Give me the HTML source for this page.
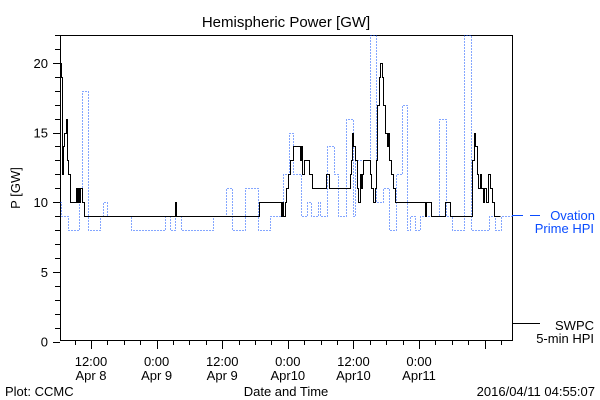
<!DOCTYPE html>
<html><head><meta charset="utf-8"><style>
html,body{margin:0;padding:0;background:#fff;width:600px;height:400px;overflow:hidden}
svg text{font-family:"Liberation Sans",sans-serif}
</style></head><body>
<svg id="chart" width="600" height="400" viewBox="0 0 600 400" xmlns="http://www.w3.org/2000/svg">
<rect x="0" y="0" width="600" height="400" fill="#fff"/>
<text x="286" y="27" font-size="15" text-anchor="middle">Hemispheric Power [GW]</text>
<rect x="60.5" y="35.5" width="452" height="305" fill="none" stroke="#000" stroke-width="1"/>
<g id="yaxis"></g>
<g id="xaxis"></g>
<text transform="translate(20,188) rotate(-90)" font-size="13" text-anchor="middle">P [GW]</text>
<text x="286" y="396" font-size="13" text-anchor="middle">Date and Time</text>
<text x="5" y="396" font-size="13">Plot: CCMC</text>
<text x="595" y="396" font-size="13" text-anchor="end">2016/04/11 04:55:07</text>
<g id="series"></g>
<line x1="512" y1="215.5" x2="523" y2="215.5" stroke="#0a4cff" stroke-width="1"/>
<line x1="530" y1="215.5" x2="540" y2="215.5" stroke="#0a4cff" stroke-width="1"/>
<text x="595" y="220" font-size="13" fill="#0a4cff" text-anchor="end">Ovation</text>
<text x="594" y="233" font-size="13" fill="#0a4cff" text-anchor="end">Prime HPI</text>
<line x1="513" y1="323.5" x2="540" y2="323.5" stroke="#000" stroke-width="1"/>
<text x="594" y="330" font-size="13" text-anchor="end">SWPC</text>
<text x="594" y="343" font-size="13" text-anchor="end">5-min HPI</text>
</svg>
<script>
// Hours since 2016-04-08 00:00
const swpcTimes=[6.3,6.5,6.7,6.9,7.0,7.4,7.6,7.8,8.1,9.2,9.4,9.6,9.8,10.0,10.3,10.7,27.3,27.5,42.7,46.7,46.9,47.1,47.5,47.7,48.0,48.4,48.9,50.2,50.4,50.6,50.9,51.6,51.8,52.4,55.0,55.5,59.4,59.5,59.7,59.9,60.3,60.6,60.8,61.2,61.3,61.5,61.7,63.0,63.3,63.5,63.9,64.1,64.3,64.4,64.6,64.8,65.2,65.4,65.7,66.1,66.3,66.5,66.8,67.2,67.6,67.9,69.1,73.1,73.3,74.2,76.8,77.7,81.7,82.1,82.2,82.6,82.8,83.2,83.3,83.7,83.9,84.2,84.6,85.0,85.3,85.7,86.8];
const swpcValues=[20,19,12,14,15,16,13,12,10,11,10,11,10,11,10,9,10,9,10,9,10,9,10,11,12,13,14,13,14,12,13,13,12,11,12,11,12,13,15,14,13,11,10,12,11,12,13,12,11,10,11,13,15,17,19,20,19,17,15,14,15,13,12,11,10,10,10,9,10,9,10,9,13,15,14,12,11,12,11,10,11,10,12,11,10,9,9];
const ovTimes=[6.3,6.5,7.8,9.8,10.3,11.4,13.6,14.2,14.9,19.3,25.5,26.4,27.3,28.4,34.3,36.7,37.8,40.2,42.5,44.7,47.1,48.2,48.9,50.4,51.5,52.2,53.5,53.9,55.2,56.5,57.2,58.6,59.9,60.3,63.0,64.1,65.4,66.5,67.8,68.9,69.8,70.3,71.2,72.2,75.6,76.9,78.0,80.2,81.5,84.8,85.9,87.0,89.0];
const ovValues=[10,9,8,11,18,8,9,10,9,8,9,8,9,8,9,11,8,11,8,9,12,15,12,9,10,9,10,9,14,12,9,16,9,13,22,10,11,8,12,17,8,9,8,9,16,9,8,22,8,9,8,9,9];
const yTicks=[0,5,10,15,20];
const xTickHours=[12,24,36,48,60,72];
const xTickLabels=["12:00","0:00","12:00","0:00","12:00","0:00"];
const xTickDates=["Apr 8","Apr 9","Apr 9","Apr10","Apr10","Apr11"];

const X0=60,X1=512,Y0=341.5,Y1=35,H0=6.33,H1=89.0,VMAX=22;
const xs=h=>X0+(h-H0)*(X1-X0)/(H1-H0);
const ys=v=>Y0-v*(Y0-Y1)/VMAX;
const NS="http://www.w3.org/2000/svg";
function mk(tag,attrs,parent){const e=document.createElementNS(NS,tag);for(const k in attrs)e.setAttribute(k,attrs[k]);parent.appendChild(e);return e;}

const ya=document.getElementById('yaxis');
for(let v=0;v<=VMAX;v++){
  const y=Math.round(ys(v))+0.5;
  const major=v%5===0;
  const t=mk('line',{x1:major?53:55,y1:y,x2:60,y2:y,stroke:'#000'},ya);
  
  
}
yTicks.forEach(v=>{
  const t=mk('text',{x:48,y:ys(v)+5,'font-size':13,'text-anchor':'end'},ya);
  t.textContent=v;
  
  
});
const xa=document.getElementById('xaxis');
for(let h=9;h<=H1;h+=3){
  const x=Math.round(xs(h))+0.5;
  const major=h%12===0;
  const t=mk('line',{x1:x,y1:341,x2:x,y2:major?349:345,stroke:'#000'},xa);
  
  
}
xTickHours.forEach((h,i)=>{
  const t=mk('text',{x:xs(h),y:366,'font-size':13,'text-anchor':'middle'},xa);
  t.textContent=xTickLabels[i];
  
  
  const d=mk('text',{x:xs(h),y:380,'font-size':13,'text-anchor':'middle'},xa);
  d.textContent=xTickDates[i];
  
  
});
function stepPath(ts,vs){
  const px=h=>(Math.round(xs(h))+0.5).toFixed(1);
  const py=v=>(Math.round(ys(v))+0.5).toFixed(1);
  let d='M'+px(ts[0])+','+py(vs[0]);
  for(let i=1;i<ts.length;i++){
    d+=' H'+px(ts[i])+' V'+py(vs[i]);
  }
  return d;
}
const sg=document.getElementById('series');
const ov=mk('path',{d:stepPath(ovTimes,ovValues),fill:'none',stroke:'#0a4cff','stroke-width':1,'stroke-dasharray':'1,2','shape-rendering':'crispEdges'},sg);


const sw=mk('path',{d:stepPath(swpcTimes,swpcValues),fill:'none',stroke:'#000','stroke-width':1,'shape-rendering':'crispEdges'},sg);


</script>
</body></html>
